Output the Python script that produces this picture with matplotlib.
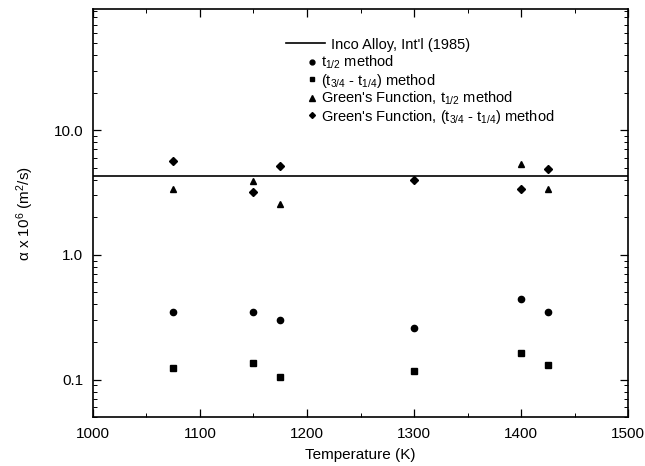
import matplotlib
matplotlib.use("Agg")
import matplotlib.pyplot as plt
from matplotlib.lines import Line2D
from matplotlib.ticker import FixedLocator, MultipleLocator, LogLocator, NullFormatter

plt.rcParams['font.family'] = ['Liberation Sans', 'DejaVu Sans']
plt.rcParams['mathtext.fontset'] = 'custom'
plt.rcParams['mathtext.rm'] = 'Liberation Sans'
plt.rcParams['mathtext.default'] = 'regular'

# temperatures (K)
temps = [1075, 1150, 1175, 1300, 1400, 1425]

# diffusivity x 1e6 (m^2/s)
half_method = [0.35, 0.35, 0.30, 0.26, 0.44, 0.35]
quarter_method = [0.124, 0.136, 0.104, 0.116, 0.163, 0.130]
greens_half = [3.40, 3.91, 2.55, None, 5.32, 3.36]
greens_quarter = [5.65, 3.16, 5.15, 3.98, 3.40, 4.88]

inco_value = 4.3
x_range = [1000, 1500]

fig = plt.figure(figsize=(6.45, 4.66), dpi=100)
ax = fig.add_axes([0.144, 0.105, 0.830, 0.875])

ax.plot(x_range, [inco_value, inco_value], color='black', lw=1.2)

def pts(vals):
    xs = [t for t, v in zip(temps, vals) if v is not None]
    ys = [v for v in vals if v is not None]
    return xs, ys

ax.plot(*pts(half_method), 'o', color='black', ms=4.5, ls='none')
ax.plot(*pts(quarter_method), 's', color='black', ms=4, ls='none')
ax.plot(*pts(greens_half), '^', color='black', ms=5, ls='none')
ax.plot(*pts(greens_quarter), 'D', color='black', ms=4, ls='none')

ax.set_yscale('log')
ax.set_xlim(1000, 1500)
ax.set_ylim(0.05, 93)

ax.xaxis.set_major_locator(MultipleLocator(100))
ax.xaxis.set_minor_locator(MultipleLocator(50))
ax.yaxis.set_major_locator(FixedLocator([0.1, 1.0, 10.0]))
ax.set_yticklabels(['0.1', '1.0', '10.0'])
ax.yaxis.set_minor_locator(LogLocator(base=10, subs=range(2, 10)))
ax.yaxis.set_minor_formatter(NullFormatter())

ax.tick_params(which='both', direction='in', top=True, right=True, labelsize=11,
               colors='black', pad=7)
ax.tick_params(which='major', length=6, width=0.9)
ax.tick_params(which='minor', length=3, width=0.7)
for s in ax.spines.values():
    s.set_linewidth(1.2)

ax.set_xlabel('Temperature (K)', fontsize=11, labelpad=5)
ax.set_ylabel(r'$\alpha$ x 10$^6$ (m$^2$/s)', fontsize=11, labelpad=12.5)

# legend: line entry, then marker entries
h1 = [Line2D([], [], color='black', lw=1.2)]
leg1 = ax.legend(h1, ["Inco Alloy, Int'l (1985)"], loc='upper left',
                 bbox_to_anchor=(0.35, 0.945), frameon=False, fontsize=10.5,
                 handlelength=2.7, handletextpad=0.4, borderaxespad=0)
ax.add_artist(leg1)

h2 = [Line2D([], [], marker='o', color='black', ls='none', ms=3.5),
      Line2D([], [], marker='s', color='black', ls='none', ms=3.5),
      Line2D([], [], marker='^', color='black', ls='none', ms=4),
      Line2D([], [], marker='D', color='black', ls='none', ms=3)]
labels2 = [r't$_{1/2}$ method',
           r'(t$_{3/4}$ - t$_{1/4}$) method',
           r"Green's Function, t$_{1/2}$ method",
           r"Green's Function, (t$_{3/4}$ - t$_{1/4}$) method"]
ax.legend(h2, labels2, loc='upper left', bbox_to_anchor=(0.39, 0.905),
          frameon=False, fontsize=10.5, handlelength=0.6, handletextpad=0.3,
          labelspacing=0.02, borderaxespad=0)

fig.savefig('out.png', dpi=100)
